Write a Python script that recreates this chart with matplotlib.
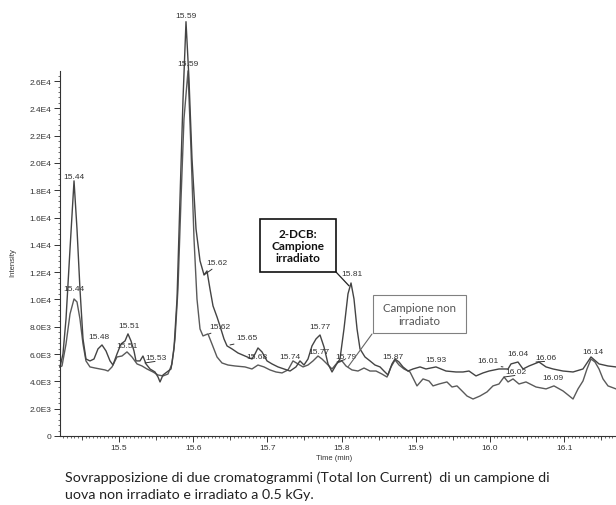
import matplotlib
matplotlib.use("Agg")
import matplotlib.pyplot as plt
from matplotlib.ticker import MultipleLocator, FuncFormatter, FixedLocator
from matplotlib.patches import Rectangle

# Tempo di ritenzione (min) e intensita' TIC - campione irradiato
t_irr = [15.4205, 15.4245, 15.4286, 15.4340, 15.4394, 15.4434, 15.4474, 15.4515, 15.4555, 15.4609,
         15.4663, 15.4717, 15.4771, 15.4825, 15.4879, 15.4919, 15.4973, 15.5027, 15.5081, 15.5121,
         15.5162, 15.5202, 15.5229, 15.5283, 15.5323, 15.5364, 15.5418, 15.5485, 15.5526, 15.5553,
         15.5593, 15.5647, 15.5701, 15.5741, 15.5782, 15.5822, 15.5863, 15.5903, 15.5943, 15.5984,
         15.6038, 15.6092, 15.6146, 15.6186, 15.6226, 15.6267, 15.6321, 15.6361, 15.6415, 15.6456,
         15.6523, 15.6604, 15.6698, 15.6792, 15.6833, 15.6873, 15.6927, 15.6995, 15.7062, 15.7143,
         15.7224, 15.7305, 15.7385, 15.7439, 15.7493, 15.7547, 15.7601, 15.7655, 15.7709, 15.7763,
         15.7817, 15.7871, 15.7925, 15.7978, 15.8032, 15.8086, 15.8127, 15.8167, 15.8208, 15.8248,
         15.8315, 15.8383, 15.8450, 15.8518, 15.8571, 15.8625, 15.8679, 15.8720, 15.8774, 15.8827,
         15.8895, 15.8962, 15.9057, 15.9137, 15.9272, 15.9407, 15.9542, 15.9636, 15.9717, 15.9811,
         15.9906, 15.9987, 16.0121, 16.0243, 16.0283, 16.0377, 16.0445, 16.0526, 16.0660, 16.0755,
         16.0849, 16.0984, 16.1119, 16.1253, 16.1361, 16.1469, 16.1590, 16.1698]
i_irr = [5060, 6010, 8580, 13710, 18690, 15170, 10780, 7110, 5640, 5500,
         5640, 6380, 6670, 6230, 5500, 5200, 6010, 6740, 6960, 7480,
         6960, 6230, 5500, 5500, 5860, 5280, 4910, 4690, 4320, 3960,
         4470, 4690, 4910, 6380, 10040, 17370, 24700, 30350, 26170, 20300,
         15170, 12830, 11800, 12090, 10780, 9530, 8720, 8060, 7110, 6600,
         6380, 6080, 5860, 5640, 6010, 6450, 6160, 5500, 5280, 5060,
         4910, 4760, 5060, 5500, 5200, 5640, 6600, 7110, 7400, 6520,
         5280, 4690, 5200, 5640, 7840, 10410, 11210, 10040, 7840, 6380,
         5790, 5500, 5200, 5060, 4760, 4470, 5280, 5640, 5420, 5060,
         4760, 4910, 5060, 4910, 5060, 4760, 4690, 4690, 4760, 4400,
         4620, 4760, 4910, 4910, 5280, 5420, 4910, 5130, 5420, 5060,
         4910, 4760, 4690, 4910, 5790, 5280, 5130, 5060]

# Campione non irradiato
t_non = [15.4205, 15.4232, 15.4286, 15.4340, 15.4394, 15.4434, 15.4474, 15.4515, 15.4555, 15.4609,
         15.4677, 15.4744, 15.4811, 15.4852, 15.4906, 15.4973, 15.5040, 15.5108, 15.5175, 15.5243,
         15.5310, 15.5377, 15.5458, 15.5526, 15.5593, 15.5660, 15.5714, 15.5755, 15.5795, 15.5836,
         15.5876, 15.5930, 15.5970, 15.6011, 15.6051, 15.6092, 15.6132, 15.6199, 15.6253, 15.6321,
         15.6388, 15.6469, 15.6563, 15.6698, 15.6792, 15.6873, 15.6954, 15.7035, 15.7116, 15.7197,
         15.7278, 15.7345, 15.7412, 15.7480, 15.7547, 15.7615, 15.7682, 15.7736, 15.7790, 15.7871,
         15.7938, 15.8005, 15.8059, 15.8140, 15.8221, 15.8302, 15.8383, 15.8464, 15.8544, 15.8612,
         15.8666, 15.8720, 15.8774, 15.8841, 15.8922, 15.9016, 15.9097, 15.9178, 15.9232, 15.9313,
         15.9420, 15.9488, 15.9555, 15.9636, 15.9690, 15.9771, 15.9865, 15.9960, 16.0040, 16.0121,
         16.0189, 16.0243, 16.0310, 16.0391, 16.0485, 16.0620, 16.0755, 16.0862, 16.0984, 16.1051,
         16.1119, 16.1186, 16.1253, 16.1307, 16.1361, 16.1415, 16.1469, 16.1523, 16.1590, 16.1698]
i_non = [5060, 5130, 6740, 8940, 10040, 9820, 8580, 6740, 5500, 5060,
         4980, 4910, 4840, 4760, 5060, 5790, 5860, 6160, 5790, 5280,
         5130, 4910, 4690, 4470, 4400, 4540, 5280, 7110, 10780, 17370,
         23240, 26750, 21040, 14440, 10040, 7840, 7330, 7480, 6740, 5790,
         5350, 5200, 5130, 5060, 4910, 5200, 5060, 4840, 4690, 4620,
         4840, 5500, 5280, 5060, 5200, 5500, 5860, 5640, 5350, 4910,
         5350, 5500, 5130, 4840, 4760, 4980, 4760, 4760, 4540, 4320,
         5060, 5570, 5200, 4910, 4690, 3670, 4180, 4030, 3670, 3810,
         3960, 3590, 3670, 3230, 2930, 2710, 2930, 3230, 3670, 3810,
         4320, 3960, 4180, 3810, 3960, 3590, 3450, 3670, 3300, 3010,
         2710, 3450, 4030, 4910, 5640, 5420, 4910, 4180, 3670, 3450]

# etichette dei picchi (testo, posizione del testo)
peak_txt = ["15.59", "15.59", "15.44", "15.44", "15.48", "15.51", "15.51", "15.68", "15.74",
            "15.77", "15.77", "15.81", "15.87", "15.93", "16.04", "16.09", "16.14"]
peak_t = [15.590, 15.593, 15.439, 15.439, 15.473, 15.513, 15.511, 15.686, 15.730,
          15.771, 15.770, 15.814, 15.869, 15.927, 16.038, 16.085, 16.139]
peak_i = [30790, 27270, 18980, 10780, 7260, 8060, 6600, 5860, 5860,
          7990, 6160, 11870, 5860, 5640, 6010, 4320, 6160]

# etichette con linea di richiamo verso la traccia
lead_txt = ["15.53", "15.62", "15.62", "15.65", "15.79", "16.01", "16.02", "16.06"]
lead_t = [15.550, 15.632, 15.636, 15.673, 15.806, 15.997, 16.035, 16.075]
lead_i = [5720, 12680, 7990, 7180, 5860, 5500, 4690, 5720]
lead_at = [15.5350, 15.6146, 15.6213, 15.6496, 15.7938, 16.0175, 16.0189, 16.0620]
lead_ai = [5350, 11800, 7480, 6670, 5420, 5060, 4320, 5420]

y_ticks = [0, 2000, 4000, 6000, 8000, 10000, 12000, 14000, 16000, 18000, 20000, 22000, 24000, 26000]
x_ticks = [15.5, 15.6, 15.7, 15.8, 15.9, 16.0, 16.1]
y_top = 26750

W, H = 616, 506
fig = plt.figure(figsize=(W / 100, H / 100), dpi=100)
ax = fig.add_axes([60 / W, 1 - 437 / H, (W - 60) / W, (437 - 7) / H])

ax.plot(t_non, i_non, color="#5a5a5a", lw=1.0, clip_on=False)
ax.plot(t_irr, i_irr, color="#444444", lw=1.0, clip_on=False)

ax.set_xlim(15.4205, 16.1698)
ax.set_ylim(0, 31500)

for s in ["top", "right"]:
    ax.spines[s].set_visible(False)
ax.spines["left"].set_bounds(0, y_top)
for s in ["left", "bottom"]:
    ax.spines[s].set_color("#333333")
    ax.spines[s].set_linewidth(0.8)

lab_font = dict(family="Liberation Sans", size=6, color="#333333")


def fmt_e(v, pos):
    if v == 0:
        return "0"
    e = len(str(int(v))) - 1
    return "%.1fE%d" % (v / 10 ** e, e)


ax.yaxis.set_major_locator(FixedLocator(y_ticks))
ax.yaxis.set_minor_locator(FixedLocator(list(range(0, y_top + 1, 400))))
ax.yaxis.set_major_formatter(FuncFormatter(fmt_e))
ax.xaxis.set_major_locator(FixedLocator(x_ticks))
ax.xaxis.set_minor_locator(MultipleLocator(0.005))
ax.xaxis.set_major_formatter(FuncFormatter(lambda v, p: "%.1f" % v))
ax.tick_params(which="major", length=4, width=0.7, color="#333333", pad=2,
               labelsize=6, labelcolor="#333333")
ax.tick_params(which="minor", length=1.6, width=0.5, color="#333333")
for lab in ax.get_xticklabels() + ax.get_yticklabels():
    lab.set_family("Liberation Sans")

# tacche intermedie ogni 0.05 min
sec = ax.secondary_xaxis("bottom")
sec.set_xticks([15.45, 15.55, 15.65, 15.75, 15.85, 15.95, 16.05, 16.15])
sec.tick_params(length=2.8, width=0.6, color="#333333", labelbottom=False)
sec.spines["bottom"].set_visible(False)

for txt, x, y in zip(peak_txt, peak_t, peak_i):
    ax.text(x, y, txt, ha="center", va="center", clip_on=False, **lab_font)

for txt, x, y, ax_, ay in zip(lead_txt, lead_t, lead_i, lead_at, lead_ai):
    ax.annotate(txt, xy=(ax_, ay), xytext=(x, y), ha="center", va="center",
                annotation_clip=False, **lab_font,
                arrowprops=dict(arrowstyle="-", color="#333333", lw=0.7,
                                relpos=(0.45, 0.0), shrinkA=0, shrinkB=0))

fig.text(13 / W, 1 - 263 / H, "Intensity", rotation=90, ha="center", va="center",
         family="Liberation Sans", size=5.5, color="#333333")
fig.text(334 / W, 1 - 459 / H, "Time (min)", ha="center", va="center",
         family="Liberation Sans", size=5.5, color="#333333")

# riquadro campione irradiato
fig.add_artist(Rectangle((260 / W, 1 - 273 / H), 76 / W, 53 / H, transform=fig.transFigure,
                         fill=False, lw=1.2, ec="#111111"))
fig.text(298 / W, 1 - 246.5 / H, "2-DCB:\nCampione\nirradiato", ha="center", va="center",
         family="Lato", weight="bold", size=8.5, color="#111111", linespacing=1.15)
ax.annotate("", xy=(15.8100, 11000), xytext=(336, H - 273), textcoords="figure pixels",
            annotation_clip=False,
            arrowprops=dict(arrowstyle="-", color="#222222", lw=0.9, shrinkA=0, shrinkB=0))

# riquadro campione non irradiato
fig.add_artist(Rectangle((373 / W, 1 - 334 / H), 93 / W, 38 / H, transform=fig.transFigure,
                         fill=False, lw=0.8, ec="#808080"))
fig.text(419.5 / W, 1 - 315 / H, "Campione non\nirradiato", ha="center", va="center",
         family="Lato", size=8.3, color="#555555", linespacing=1.25)
ax.annotate("", xy=(15.8086, 5060), xytext=(372, H - 335), textcoords="figure pixels",
            annotation_clip=False,
            arrowprops=dict(arrowstyle="-", color="#666666", lw=0.8, shrinkA=0, shrinkB=0))

fig.text(65 / W, 1 - 478 / H,
         "Sovrapposizione di due cromatogrammi (Total Ion Current)  di un campione di",
         ha="left", va="center", family="Lato", size=10.3, color="#222222")
fig.text(65 / W, 1 - 495 / H, "uova non irradiato e irradiato a 0.5 kGy.",
         ha="left", va="center", family="Lato", size=10.3, color="#222222")

fig.savefig("out.png", dpi=100)
